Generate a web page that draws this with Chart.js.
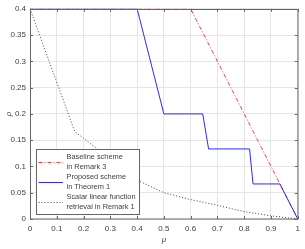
<!DOCTYPE html>
<html lang="en">
<head>
<meta charset="UTF-8">
<title>rho vs mu</title>
<script src="https://cdn.jsdelivr.net/npm/chart.js"></script>
<style>
    html, body { margin: 0; padding: 0; background: #fff; }
    #wrap { width: 305px; height: 249px; }
</style>
</head>
<body>
<div id="wrap"><canvas id="rhoChart" width="305" height="249"></canvas></div>
<script>
// values
const baselineMu  = [0, 0.6, 1];
const baselineRho = [0.4, 0.4, 0];
const proposedMu  = [0, 0.4, 0.5, 0.645, 0.667, 0.82, 0.833, 0.933, 1];
const proposedRho = [0.4, 0.4, 0.2, 0.2, 0.1333, 0.1333, 0.0667, 0.0667, 0];
const scalarMu  = [0, 0.1667, 0.4, 0.5, 0.6, 0.7, 0.8, 0.9, 1];
const scalarRho = [0.4, 0.1667, 0.074, 0.05, 0.037, 0.026, 0.014, 0.006, 0];
const xTicks = [0, 0.1, 0.2, 0.3, 0.4, 0.5, 0.6, 0.7, 0.8, 0.9, 1];
const yTicks = [0, 0.05, 0.1, 0.15, 0.2, 0.25, 0.3, 0.35, 0.4];
const legendLabels = [
    ["Baseline scheme", "in Remark 3"],
    ["Proposed scheme", "in Theorem 1"],
    ["Scalar linear function", "retrieval in Remark 1"]
];

const FONT = "'Liberation Sans', Arial, Helvetica, sans-serif";
const AXIS = "#666";
const TEXT = "#404040";

function pts(xs, ys) { return xs.map((x, i) => ({ x: x, y: ys[i] })); }

const datasets = [
    { data: pts(baselineMu, baselineRho), borderColor: "#ff3a3a", borderWidth: 1, borderDash: [4, 2, 1, 2], order: 2 },
    { data: pts(proposedMu, proposedRho), borderColor: "#2a2aff", borderWidth: 1, order: 1 },
    { data: pts(scalarMu, scalarRho), borderColor: "#444", borderWidth: 1, borderDash: [1, 2], order: 3 }
];

// MATLAB-like box with inward ticks
const boxPlugin = {
    id: "box",
    afterDatasetsDraw(chart) {
        const { ctx, chartArea: a, scales } = chart;
        ctx.save();
        ctx.strokeStyle = AXIS;
        ctx.lineWidth = 1;
        ctx.strokeRect(Math.round(a.left) + 0.5, Math.round(a.top) + 0.5,
            Math.round(a.right - a.left) - 1 + 0.5, Math.round(a.bottom - a.top) - 0.5);
        ctx.beginPath();
        xTicks.forEach(v => {
            const px = Math.round(scales.x.getPixelForValue(v)) + 0.5;
            ctx.moveTo(px, a.bottom); ctx.lineTo(px, a.bottom - 3);
            ctx.moveTo(px, a.top); ctx.lineTo(px, a.top + 3);
        });
        yTicks.forEach(v => {
            const py = Math.round(scales.y.getPixelForValue(v)) + 0.5;
            ctx.moveTo(a.left, py); ctx.lineTo(a.left + 3, py);
            ctx.moveTo(a.right, py); ctx.lineTo(a.right - 3, py);
        });
        ctx.stroke();
        ctx.restore();
    }
};

// two-line legend entries, drawn over the curves
const legendPlugin = {
    id: "boxLegend",
    afterDatasetsDraw(chart) {
        const ctx = chart.ctx;
        const bx = 36.5, by = 149.5, bw = 103, bh = 65;
        ctx.save();
        ctx.fillStyle = "#fff";
        ctx.fillRect(bx, by, bw, bh);
        ctx.strokeStyle = AXIS;
        ctx.lineWidth = 1;
        ctx.strokeRect(bx, by, bw, bh);
        ctx.font = "7.4px " + FONT;
        ctx.textBaseline = "middle";
        ctx.textAlign = "left";
        legendLabels.forEach((lines, i) => {
            const ds = datasets[i];
            const cy = 162.5 + i * 20;
            ctx.beginPath();
            ctx.strokeStyle = ds.borderColor;
            ctx.setLineDash(ds.borderDash || []);
            ctx.moveTo(38.5, cy);
            ctx.lineTo(63, cy);
            ctx.stroke();
            ctx.setLineDash([]);
            ctx.fillStyle = TEXT;
            ctx.fillText(lines[0], 66.5, cy - 5.5);
            ctx.fillText(lines[1], 66.5, cy + 4.5);
        });
        ctx.restore();
    }
};

new Chart(document.getElementById("rhoChart"), {
    type: "line",
    data: { datasets: datasets },
    options: {
        responsive: false,
        animation: false,
        events: [],
        elements: { point: { radius: 0 }, line: { tension: 0, fill: false } },
        layout: { padding: { top: 5, right: 4, left: 0, bottom: 0 } },
        plugins: { legend: { display: false }, tooltip: { enabled: false } },
        scales: {
            x: {
                type: "linear", min: 0, max: 1,
                afterBuildTicks: s => { s.ticks = xTicks.map(v => ({ value: v })); },
                afterFit: s => { s.height = 30; },
                grid: { color: "#e6e6e6", drawTicks: false },
                border: { display: false },
                ticks: { padding: 5, color: TEXT, font: { family: FONT, size: 8 }, maxRotation: 0, callback: v => String(v) },
                title: { display: true, text: "μ", color: TEXT, padding: { top: 0, bottom: 4 }, font: { family: FONT, size: 8, style: "italic" } }
            },
            y: {
                type: "linear", min: 0, max: 0.4,
                afterBuildTicks: s => { s.ticks = yTicks.map(v => ({ value: v })); },
                afterFit: s => { s.width = 30; },
                grid: { color: "#e6e6e6", drawTicks: false },
                border: { display: false },
                ticks: { padding: 4, color: TEXT, font: { family: FONT, size: 8 }, callback: v => String(v) },
                title: { display: true, text: "ρ", color: TEXT, padding: { top: 4, bottom: 0 }, font: { family: FONT, size: 8, style: "italic" } }
            }
        }
    },
    plugins: [boxPlugin, legendPlugin]
});
</script>
</body>
</html>
